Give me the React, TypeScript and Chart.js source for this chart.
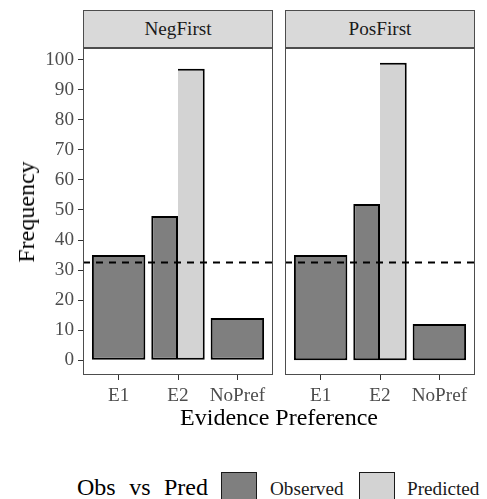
import React, { useEffect, useRef } from "react";
import { Chart, registerables } from "chart.js";

Chart.register(...registerables);

// ---- data ----
const categories = ["E1", "E2", "NoPref"];
const facets = ["NegFirst", "PosFirst"];
const observedNegFirst = [35, 48, 14];
const predictedNegFirst = [null, 97, null];
const observedPosFirst = [35, 52, 12];
const predictedPosFirst = [null, 99, null];
const chanceLevel = [32.5, 32.5];
const yTicks = [0, 10, 20, 30, 40, 50, 60, 70, 80, 90, 100];
const seriesNames = ["Observed", "Predicted"];
const legendTitle = "Obs vs Pred";
const xTitle = "Evidence Preference";
const yTitle = "Frequency";

const FONT = "Liberation Serif, DejaVu Serif, Noto Serif, serif";
const OBS_COLOR = "#7F7F7F";
const PRED_COLOR = "#D3D3D3";
const TICK_COLOR = "#4D4D4D";
const AXIS_COLOR = "#333333";

const panelBorder = {
  id: "panelBorder",
  afterDraw(chart: any) {
    const { ctx, chartArea: a } = chart;
    ctx.save();
    ctx.strokeStyle = "#4D4D4D";
    ctx.lineWidth = 1;
    ctx.strokeRect(a.left + 0.5, a.top + 0.5, a.right - a.left - 1, a.bottom - a.top - 1);
    ctx.restore();
  },
};

function makeConfig(
  obs: (number | null)[],
  pred: (number | null)[],
  level: number,
  showY: boolean,
  padding: { left: number; right: number; top: number; bottom: number }
): any {
  const toPts = (arr: (number | null)[]) => arr.map((v, i) => ({ x: i + 1, y: v }));
  const barCommon = {
    type: "bar",
    categoryPercentage: 0.9,
    barPercentage: 1.0,
    skipNull: true,
    borderWidth: 2,
    borderColor: "#000000",
    order: 1,
  };
  return {
    type: "bar",
    data: {
      datasets: [
        {
          type: "line",
          label: "chance",
          data: [
            { x: 0.4, y: level },
            { x: 3.6, y: level },
          ],
          borderColor: "#000000",
          borderWidth: 2,
          borderDash: [7, 6],
          pointRadius: 0,
          fill: false,
          order: 0,
        },
        { ...barCommon, label: seriesNames[0], data: toPts(obs), backgroundColor: OBS_COLOR, borderSkipped: false },
        { ...barCommon, label: seriesNames[1], data: toPts(pred), backgroundColor: PRED_COLOR, borderSkipped: "left" },
      ],
    },
    options: {
      responsive: false,
      animation: false,
      events: [],
      devicePixelRatio: 1,
      layout: { padding },
      plugins: { legend: { display: false }, tooltip: { enabled: false } },
      scales: {
        x: {
          type: "linear",
          min: 0.4,
          max: 3.6,
          bounds: "data",
          offset: false,
          afterBuildTicks: (s: any) => {
            s.ticks = categories.map((_, i) => ({ value: i + 1 }));
          },
          afterFit: (s: any) => {
            s.height = 43;
            s.paddingLeft = 0;
            s.paddingRight = 0;
          },
          ticks: {
            callback: (_v: any, i: number) => categories[i],
            color: TICK_COLOR,
            font: { family: FONT, size: 19.2 },
            padding: 4,
            maxRotation: 0,
            minRotation: 0,
            autoSkip: false,
          },
          grid: {
            display: true,
            drawOnChartArea: false,
            drawTicks: true,
            tickLength: 5,
            color: AXIS_COLOR,
            offset: false,
            lineWidth: 1,
          },
          border: { display: false },
        },
        y: {
          type: "linear",
          min: -4.95,
          max: 103.95,
          bounds: "data",
          display: showY,
          afterBuildTicks: (s: any) => {
            s.ticks = yTicks.map((v) => ({ value: v }));
          },
          afterFit: showY
            ? (s: any) => {
                s.width = 83;
                s.paddingTop = 0;
                s.paddingBottom = 0;
              }
            : undefined,
          ticks: {
            color: TICK_COLOR,
            font: { family: FONT, size: 19.2 },
            padding: 4,
          },
          grid: {
            display: true,
            drawOnChartArea: false,
            drawTicks: true,
            tickLength: 5,
            color: AXIS_COLOR,
            lineWidth: 1,
          },
          border: { display: false },
        },
      },
    },
    plugins: [panelBorder],
  };
}

export default function App() {
  const leftRef = useRef<HTMLCanvasElement>(null);
  const rightRef = useRef<HTMLCanvasElement>(null);

  useEffect(() => {
    Chart.defaults.font.family = FONT;
    const c1 = new Chart(
      leftRef.current as HTMLCanvasElement,
      makeConfig(observedNegFirst, predictedNegFirst, chanceLevel[0], true, { left: 0, right: 7, top: 10, bottom: 0 })
    );
    const c2 = new Chart(
      rightRef.current as HTMLCanvasElement,
      makeConfig(observedPosFirst, predictedPosFirst, chanceLevel[1], false, { left: 7, right: 12, top: 10, bottom: 0 })
    );
    return () => {
      c1.destroy();
      c2.destroy();
    };
  }, []);

  const stripLefts = [83, 285];

  return (
    <div
      style={{
        position: "absolute",
        left: 0,
        top: 0,
        width: 487,
        height: 499,
        background: "#ffffff",
        overflow: "hidden",
        fontFamily: FONT,
      }}
    >
      {facets.map((f, i) => (
        <div
          key={f}
          style={{
            position: "absolute",
            left: stripLefts[i],
            top: 10,
            width: 190,
            height: 38,
            boxSizing: "border-box",
            border: "1px solid #4D4D4D",
            background: "#D9D9D9",
            color: "#1A1A1A",
            fontSize: 19.2,
            display: "flex",
            alignItems: "center",
            justifyContent: "center",
          }}
        >
          {f}
        </div>
      ))}
      <canvas ref={leftRef} width={280} height={380} style={{ position: "absolute", left: 0, top: 38 }} />
      <canvas ref={rightRef} width={209} height={380} style={{ position: "absolute", left: 278, top: 38 }} />
      <div
        style={{
          position: "absolute",
          left: 26,
          top: 211.5,
          fontSize: 24,
          lineHeight: "24px",
          whiteSpace: "nowrap",
          color: "#000",
          transform: "translate(-50%, -50%) rotate(-90deg)",
        }}
      >
        {yTitle}
      </div>
      <div
        style={{
          position: "absolute",
          left: 279,
          top: 405,
          fontSize: 24,
          lineHeight: "24px",
          whiteSpace: "nowrap",
          color: "#000",
          transform: "translateX(-50%)",
        }}
      >
        {xTitle}
      </div>
      <div
        style={{
          position: "absolute",
          left: 77,
          top: 475,
          fontSize: 24,
          lineHeight: "24px",
          whiteSpace: "nowrap",
          wordSpacing: "7.5px",
          color: "#000",
        }}
      >
        {legendTitle}
      </div>
      {[OBS_COLOR, PRED_COLOR].map((c, i) => (
        <React.Fragment key={c}>
          <div
            style={{
              position: "absolute",
              left: [221, 359][i],
              top: 472,
              width: 36,
              height: 35,
              boxSizing: "border-box",
              border: "1.5px solid #1A1A1A",
              background: c,
            }}
          />
          <div
            style={{
              position: "absolute",
              left: [270, 407][i],
              top: 479,
              fontSize: 19.2,
              lineHeight: "19.2px",
              whiteSpace: "nowrap",
              color: "#1A1A1A",
            }}
          >
            {seriesNames[i]}
          </div>
        </React.Fragment>
      ))}
    </div>
  );
}
